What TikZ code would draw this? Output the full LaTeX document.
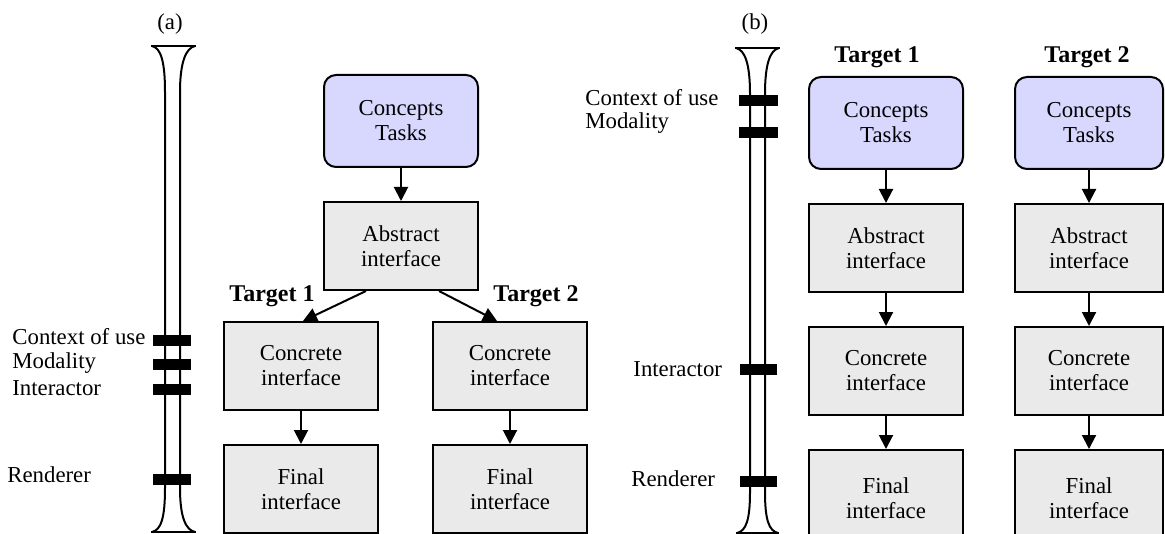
\documentclass[tikz,border=0pt]{standalone}
\usepackage{fontspec}
\setmainfont{Liberation Serif}
\usetikzlibrary{positioning, arrows.meta, calc}
\definecolor{conceptblue}{RGB}{216,216,255}
\definecolor{boxgray}{RGB}{234,234,234}

\begin{document}
\begin{tikzpicture}[x=0.5pt, y=-0.5pt, node distance=16.5pt, font=\fontsize{11.4}{12.5}\selectfont]
    % Define styles
    \tikzstyle{levelbox} = [rectangle, draw, line width=1pt, fill=boxgray, minimum width=77pt, minimum height=44pt, align=center, inner sep=2pt]
    \tikzstyle{conceptbox} = [levelbox, fill=conceptblue, rounded corners=6pt, minimum height=46pt]
    \tikzstyle{arrow} = [-{Triangle[width=7pt,length=7pt]}, line width=1pt]
    \tikzstyle{tube} = [line width=1pt]
    \tikzstyle{target} = [font=\fontsize{12}{14}\selectfont\bfseries]
    \tikzstyle{scalelabel} = [anchor=west, inner sep=0pt]

    \useasboundingbox (0,0) rectangle (1165,534);

    % (a) tube
    \node (capA) at (170,24) {(a)};
    \draw[tube] (151,46) -- (196,46);
    \draw[tube] (152,46) .. controls (161,48) and (165,62) .. (165,92) -- (165,488) .. controls (165,518) and (161,530) .. (152,532);
    \draw[tube] (195,46) .. controls (186,48) and (180,62) .. (180,92) -- (180,488) .. controls (180,518) and (186,530) .. (195,532);
    \draw[tube] (151,532) -- (196,532);
    \fill (153,335) rectangle (191,346);
    \fill (153,359) rectangle (191,370);
    \fill (153,384) rectangle (191,395);
    \fill (153,474) rectangle (191,485);
    \node[scalelabel] (ctxA) at (12,337) {Context of use};
    \node[scalelabel] (modA) at (12,363) {Modality};
    \node[scalelabel] (intA) at (12,388) {Interactor};
    \node[scalelabel] (renA) at (7,475) {Renderer};

    % (a) nodes
    \node[conceptbox] (conceptsA) at (401,121) {Concepts\\Tasks};
    \node[levelbox, below=of conceptsA] (abstractA) {Abstract\\interface};
    \node[levelbox] (concreteA1) at (301,366) {Concrete\\interface};
    \node[levelbox] (concreteA2) at (510,366) {Concrete\\interface};
    \node[levelbox, below=of concreteA1] (finalA1) {Final\\interface};
    \node[levelbox, below=of concreteA2] (finalA2) {Final\\interface};
    \node[target] (tgtA1) at (272,296) {Target 1};
    \node[target] (tgtA2) at (536,296) {Target 2};

    % (a) connections
    \draw[arrow] (conceptsA) -- (abstractA);
    \draw[arrow] ($(abstractA.south)+(-35,0)$) -- ($(concreteA1.north)+(2,0)$);
    \draw[arrow] ($(abstractA.south)+(38,0)$) -- ($(concreteA2.north)+(-13,0)$);
    \draw[arrow] (concreteA1) -- (finalA1);
    \draw[arrow] (concreteA2) -- (finalA2);

    % (b) tube
    \node (capB) at (755,24) {(b)};
    \draw[tube] (735,48) -- (780,48);
    \draw[tube] (736,48) .. controls (745,50) and (750,64) .. (750,94) -- (750,492) .. controls (750,520) and (746,531) .. (737,533);
    \draw[tube] (779,48) .. controls (770,50) and (765,64) .. (765,94) -- (765,492) .. controls (765,520) and (769,531) .. (778,533);
    \draw[tube] (736,533) -- (779,533);
    \fill (739,95) rectangle (778,106);
    \fill (739,127) rectangle (778,138);
    \fill (740,364) rectangle (777,375);
    \fill (740,476) rectangle (777,487);
    \node[scalelabel] (ctxB) at (585,98) {Context of use};
    \node[scalelabel] (modB) at (585,123) {Modality};
    \node[scalelabel] (intB) at (633,369) {Interactor};
    \node[scalelabel] (renB) at (631,479) {Renderer};

    % (b) nodes
    \node[target] (tgtB1) at (877,57) {Target 1};
    \node[target] (tgtB2) at (1087,57) {Target 2};
    \node[conceptbox] (conceptsB1) at (886,123) {Concepts\\Tasks};
    \node[levelbox, below=of conceptsB1] (abstractB1) {Abstract\\interface};
    \node[levelbox, below=of abstractB1] (concreteB1) {Concrete\\interface};
    \node[levelbox, below=of concreteB1, minimum height=48pt] (finalB1) {Final\\interface};
    \node[conceptbox, minimum width=74pt] (conceptsB2) at (1089,123) {Concepts\\Tasks};
    \node[levelbox, minimum width=74pt, below=of conceptsB2] (abstractB2) {Abstract\\interface};
    \node[levelbox, minimum width=74pt, below=of abstractB2] (concreteB2) {Concrete\\interface};
    \node[levelbox, minimum width=74pt, minimum height=48pt, below=of concreteB2] (finalB2) {Final\\interface};

    % (b) connections
    \draw[arrow] (conceptsB1) -- (abstractB1);
    \draw[arrow] (abstractB1) -- (concreteB1);
    \draw[arrow] (concreteB1) -- (finalB1);
    \draw[arrow] (conceptsB2) -- (abstractB2);
    \draw[arrow] (abstractB2) -- (concreteB2);
    \draw[arrow] (concreteB2) -- (finalB2);
\end{tikzpicture}
\end{document}
